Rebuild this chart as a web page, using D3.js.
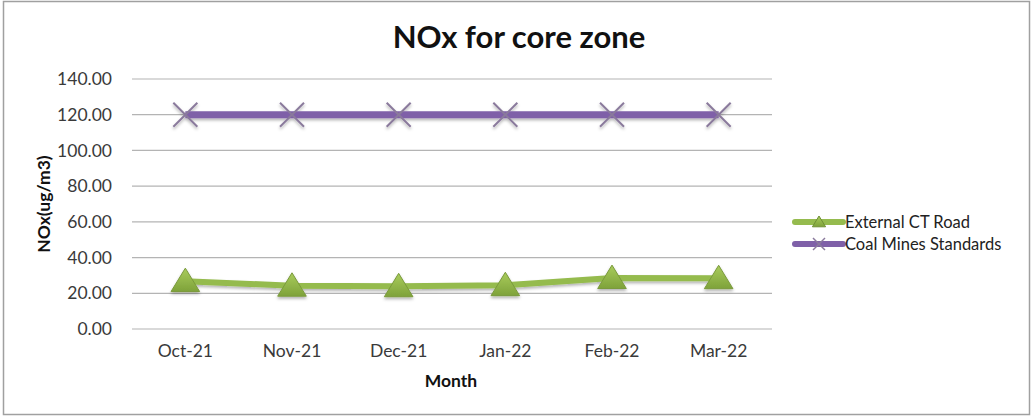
<!DOCTYPE html>
<html>
<head>
<meta charset="utf-8">
<script src="https://cdn.jsdelivr.net/npm/d3@7"></script>
<style>
  body { margin: 0; background: #fff; }
  text { font-family: Lato, "Open Sans", sans-serif; }
</style>
</head>
<body>
<div id="chart"></div>
<script>
'use strict';

// chart data
const months = ["Oct-21", "Nov-21", "Dec-21", "Jan-22", "Feb-22", "Mar-22"];
const externalCTRoad = [26.8, 24.2, 23.9, 24.5, 28.5, 28.4];
const coalMinesStandards = [120, 120, 120, 120, 120, 120];
const yTicks = [0, 20, 40, 60, 80, 100, 120, 140];

const W = 1032, H = 419;
const plot = { left: 132, right: 772, top: 79, bottom: 329 };

const svg = d3.select("#chart").append("svg")
    .attr("width", W)
    .attr("height", H);

const defs = svg.append("defs");
const grad = defs.append("linearGradient")
    .attr("id", "triGrad").attr("x1", 0).attr("y1", 0).attr("x2", 0).attr("y2", 1);
grad.append("stop").attr("offset", "0%").attr("stop-color", "#a9cc5c");
grad.append("stop").attr("offset", "100%").attr("stop-color", "#7ea23a");

// user space filter so flat lines still get drawn (only used on untransformed groups)
const shadow = defs.append("filter").attr("id", "shadow")
    .attr("filterUnits", "userSpaceOnUse")
    .attr("x", 0).attr("y", 0).attr("width", W).attr("height", H);
shadow.append("feDropShadow").attr("dx", 0).attr("dy", 2).attr("stdDeviation", 1.5)
    .attr("flood-color", "#000").attr("flood-opacity", 0.3);

// outer border
svg.append("rect")
    .attr("x", 3.5).attr("y", 1.5)
    .attr("width", 1026).attr("height", 413)
    .attr("fill", "#fff")
    .attr("stroke", "#a0a0a0")
    .attr("stroke-width", 1.5);

const x = d3.scaleBand()
    .domain(months)
    .range([plot.left, plot.right]);

const y = d3.scaleLinear()
    .domain([0, 140])
    .range([plot.bottom, plot.top]);

// gridlines
svg.append("g")
    .selectAll("line")
    .data(yTicks)
    .join("line")
    .attr("x1", plot.left).attr("x2", plot.right)
    .attr("y1", d => y(d)).attr("y2", d => y(d))
    .attr("stroke", "#b4b4b4")
    .attr("stroke-width", 1.2);

// y axis
const yAxis = svg.append("g")
    .attr("transform", "translate(" + plot.left + ",0)")
    .call(d3.axisLeft(y).tickValues(yTicks).tickFormat(d3.format(".2f")).tickSize(0).tickPadding(20));
yAxis.select(".domain").remove();
yAxis.selectAll("text")
    .attr("font-size", 17.5)
    .attr("fill", "#3a3a3a")
    .style("font-family", "Lato, sans-serif");

// x axis
const xAxis = svg.append("g")
    .attr("transform", "translate(0," + plot.bottom + ")")
    .call(d3.axisBottom(x).tickSize(0).tickPadding(16));
xAxis.select(".domain").remove();
xAxis.selectAll("text")
    .attr("font-size", 17.5)
    .attr("fill", "#3a3a3a")
    .style("font-family", "Lato, sans-serif");

// titles
svg.append("text")
    .attr("x", 519).attr("y", 48)
    .attr("text-anchor", "middle")
    .attr("font-size", 31)
    .attr("font-weight", "bold")
    .attr("fill", "#111")
    .text("NOx for core zone");

svg.append("text")
    .attr("x", 451).attr("y", 387)
    .attr("text-anchor", "middle")
    .attr("font-size", 17.5)
    .attr("font-weight", "bold")
    .attr("fill", "#111")
    .text("Month");

svg.append("text")
    .attr("transform", "translate(50," + ((plot.top + plot.bottom) / 2) + ") rotate(-90)")
    .attr("text-anchor", "middle")
    .attr("font-size", 17.5)
    .attr("font-weight", "bold")
    .attr("fill", "#111")
    .text("NOx(ug/m3)");

const cx = d => x(d) + x.bandwidth() / 2;
const line = d3.line()
    .x(d => cx(d.m))
    .y(d => y(d.v));

const purple = "#7f60a8", green = "#95bb4e";

const coalData = months.map((m, i) => ({ m: m, v: coalMinesStandards[i] }));
const roadData = months.map((m, i) => ({ m: m, v: externalCTRoad[i] }));

const xMark = (g, s) => {
    g.append("line").attr("x1", -s).attr("y1", -s).attr("x2", s).attr("y2", s);
    g.append("line").attr("x1", -s).attr("y1", s).attr("x2", s).attr("y2", -s);
};

const tri = s => "M0," + (-s) + "L" + (s * 1.1) + "," + (s * 0.8) + "L" + (-s * 1.1) + "," + (s * 0.8) + "Z";

// Coal Mines Standards
const coalG = svg.append("g").attr("filter", "url(#shadow)");
coalG.append("path")
    .datum(coalData)
    .attr("fill", "none")
    .attr("stroke", purple)
    .attr("stroke-width", 7)
    .attr("d", line);

coalG.append("g")
    .selectAll("g")
    .data(coalData)
    .join("g")
    .attr("transform", d => "translate(" + cx(d.m) + "," + y(d.v) + ")")
    .attr("stroke", "#8a7a9c")
    .attr("stroke-width", 2)
    .each(function () { xMark(d3.select(this), 12); });

// External CT Road
const roadG = svg.append("g").attr("filter", "url(#shadow)");
roadG.append("path")
    .datum(roadData)
    .attr("fill", "none")
    .attr("stroke", green)
    .attr("stroke-width", 6)
    .attr("d", line);

roadG.append("g")
    .selectAll("path")
    .data(roadData)
    .join("path")
    .attr("transform", d => "translate(" + cx(d.m) + "," + y(d.v) + ")")
    .attr("d", tri(13))
    .attr("fill", "url(#triGrad)")
    .attr("stroke", "#7a9a3c")
    .attr("stroke-width", 1);

// legend
const legend = [
    { name: "External CT Road", color: green, marker: "tri" },
    { name: "Coal Mines Standards", color: purple, marker: "x" }
];

const lg = svg.append("g").attr("transform", "translate(795,222)");
legend.forEach((d, i) => {
    const row = lg.append("g").attr("transform", "translate(0," + (i * 22) + ")");
    row.append("line")
        .attr("x1", 0).attr("x2", 48)
        .attr("stroke", d.color)
        .attr("stroke-width", 6)
        .attr("stroke-linecap", "round");
    const mk = row.append("g").attr("transform", "translate(24,0)");
    if (d.marker === "tri") {
        mk.append("path").attr("d", tri(6)).attr("fill", "url(#triGrad)").attr("stroke", "#6f8f35");
    } else {
        mk.attr("stroke", "#8a7a9c").attr("stroke-width", 1.5);
        xMark(mk, 6);
    }
    row.append("text")
        .attr("x", 50).attr("y", 5.5)
        .attr("font-size", 16.5)
        .attr("fill", "#222")
        .text(d.name);
});
</script>
</body>
</html>
